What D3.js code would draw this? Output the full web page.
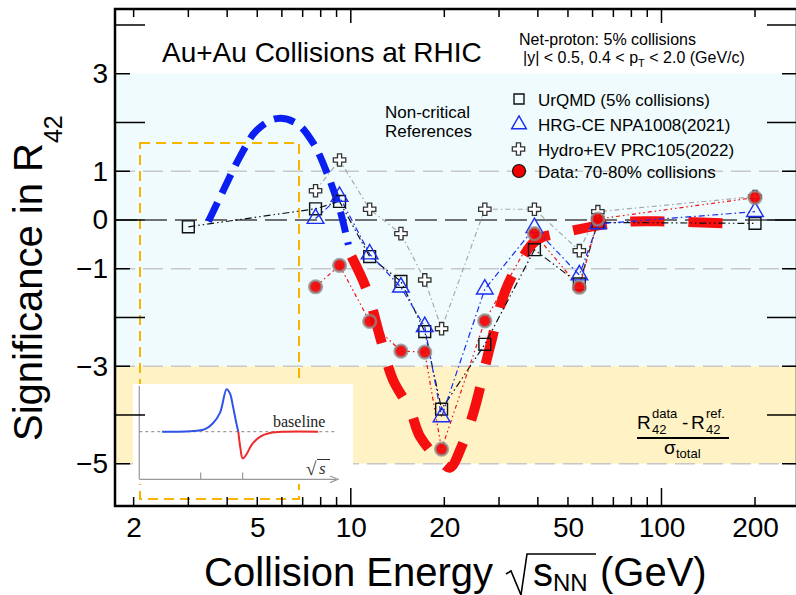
<!DOCTYPE html>
<html>
<head>
<meta charset="utf-8">
<script src="https://cdn.jsdelivr.net/npm/d3@7"></script>
<style>
  html, body { margin: 0; padding: 0; background: #fff; overflow: hidden; }
  svg { display: block; font-family: "Liberation Sans", Arial, Helvetica, sans-serif; }
</style>
</head>
<body>
<svg id="chart" width="796" height="595"></svg>
<script>
// collision energies (GeV)
const urqmdEnergies = [3, 7.7, 9.2, 11.5, 14.5, 17.3, 19.6, 27, 39, 54.4, 62.4, 200];
const besEnergies = [7.7, 9.2, 11.5, 14.5, 17.3, 19.6, 27, 39, 54.4, 62.4, 200];

// significance values
const urqmdValues = [-0.14, 0.23, 0.38, -0.75, -1.26, -2.29, -3.88, -2.55, -0.61, -1.31, -0.05, -0.07];
const hrgValues   = [0.03, 0.48, -0.70, -1.38, -2.19, -4.04, -1.42, -0.16, -1.13, -0.08, 0.17];
const hydroValues = [0.60, 1.23, 0.22, -0.28, -1.23, -2.23, 0.22, 0.22, -0.63, 0.17, 0.48];
const dataValues  = [-1.37, -0.93, -2.08, -2.69, -2.71, -4.70, -2.07, -0.28, -1.38, 0.02, 0.46];

// thick guide curves
const guideBlueE = [3.48, 3.89, 4.40, 4.98, 5.77, 6.70, 7.58, 8.47, 9.23, 9.82];
const guideBlueV = [-0.03, 0.61, 1.30, 1.84, 2.08, 1.98, 1.57, 0.89, 0.20, -0.51];
const guideRedE = [10.05, 11.25, 12.41, 13.67, 15.51, 16.70, 19.6, 20.86, 22.75, 24.80, 28.05, 31.36, 35.05, 39.67, 50.0, 64.2, 80.2, 103.9, 166];
const guideRedV = [-0.75, -1.43, -2.39, -3.28, -3.89, -4.44, -4.97, -5.08, -4.64, -3.96, -2.60, -1.47, -0.86, -0.41, -0.24, -0.10, -0.03, -0.03, -0.07];

// inset sketch (arbitrary units)
const insetBlueT = [11.5, 25.6, 33.2, 37.2, 40.8, 44.1, 45.8, 47.3, 48.8, 50];
const insetBlueV = [0, 0.01, 0.06, 0.2, 0.45, 1.0, 0.9, 0.6, 0.25, 0];
const insetRedT = [50, 51.1, 52.2, 53.9, 56.9, 60.9, 66, 73.6, 90.3];
const insetRedV = [0, -0.4, -0.63, -0.55, -0.3, -0.12, -0.03, 0, 0];

// axis ticks
const xMinorTicks = [2, 3, 4, 5, 6, 7, 8, 9, 20, 30, 40, 50, 60, 70, 80, 90, 200];
const xMajorTicks = [10, 100];
const xTickLabels = [2, 5, 10, 20, 50, 100, 200];
const yLongTicks = [4, 2, 0, -2, -4];
const yShortTicks = [3, 1, -1, -3, -5];
const yTickLabels = [3, 1, 0, -1, -3, -5];
const grayLines = [1, -1, -3, -5];

const legendLabels = ["UrQMD (5% collisions)", "HRG-CE NPA1008(2021)", "Hydro+EV PRC105(2022)", "Data: 70-80% collisions"];

const X0 = 115, X1 = 797, Y0 = 9, Y1 = 506;
const svg = d3.select("#chart");

const x = d3.scaleLog().domain([1.742, 273]).range([X0, X1]);
const y = d3.scaleLinear().domain([-5.867, 4.328]).range([Y1, Y0]);

// background bands
svg.append("rect").attr("x", X0).attr("y", y(3)).attr("width", X1 - X0).attr("height", y(-3) - y(3)).attr("fill", "#effbfd");
svg.append("rect").attr("x", X0).attr("y", y(-3)).attr("width", X1 - X0).attr("height", y(-5) - y(-3)).attr("fill", "#fff2c4");

// grid lines
svg.selectAll(".grid").data(grayLines).enter().append("line")
  .attr("x1", X0).attr("x2", X1).attr("y1", d => y(d)).attr("y2", d => y(d))
  .attr("stroke", "#c8c8c8").attr("stroke-width", 1.6).attr("stroke-dasharray", "20,8");
svg.append("line").attr("x1", X0).attr("x2", X1).attr("y1", y(0)).attr("y2", y(0))
  .attr("stroke", "#444").attr("stroke-width", 1.5).attr("stroke-dasharray", "22,8");

// orange dashed box
svg.append("rect").attr("x", 140).attr("y", 143).attr("width", 159).attr("height", 356)
  .attr("fill", "none").attr("stroke", "#f7b500").attr("stroke-width", 2).attr("stroke-dasharray", "10,6");

// inset sketch
const inset = svg.append("g");
inset.append("rect").attr("x", 133).attr("y", 384).attr("width", 220).attr("height", 100).attr("fill", "#fff");
const ix = d3.scaleLinear().domain([0, 100]).range([139.3, 337.3]);
const iy = d3.scaleLinear().domain([0, 1]).range([431.7, 389.3]);
inset.append("line").attr("x1", ix(0)).attr("x2", ix(0)).attr("y1", 386).attr("y2", 479.3).attr("stroke", "#999").attr("stroke-width", 1.2);
inset.append("line").attr("x1", ix(0)).attr("x2", 336).attr("y1", 479.3).attr("y2", 479.3).attr("stroke", "#999").attr("stroke-width", 1.2);
inset.append("path").attr("d", "M330,476 L338,479.3 L330,482.6").attr("fill", "none").attr("stroke", "#999").attr("stroke-width", 1.2);
inset.selectAll(".itick").data([31, 52.2]).enter().append("line")
  .attr("x1", d => ix(d)).attr("x2", d => ix(d)).attr("y1", 472.5).attr("y2", 479.3).attr("stroke", "#999").attr("stroke-width", 1.2);
inset.append("line").attr("x1", ix(0)).attr("x2", ix(100)).attr("y1", iy(0)).attr("y2", iy(0))
  .attr("stroke", "#777").attr("stroke-width", 0.9).attr("stroke-dasharray", "3,3");
const iline = d3.line().x(d => ix(d[0])).y(d => iy(d[1])).curve(d3.curveCatmullRom);
inset.append("path").attr("d", iline(d3.zip(insetBlueT, insetBlueV))).attr("fill", "none").attr("stroke", "#2f54e6").attr("stroke-width", 2);
inset.append("path").attr("d", iline(d3.zip(insetRedT, insetRedV))).attr("fill", "none").attr("stroke", "#ee2b2b").attr("stroke-width", 2);
inset.append("text").attr("x", 273).attr("y", 427).attr("font-family", "'Liberation Serif', 'DejaVu Serif', serif")
  .attr("font-size", 16).attr("fill", "#222").text("baseline");
inset.append("text").attr("x", 306).attr("y", 475).attr("font-family", "'Liberation Serif', 'DejaVu Serif', serif")
  .attr("font-size", 19).attr("fill", "#333").text("\u221A");
inset.append("line").attr("x1", 317).attr("x2", 330).attr("y1", 459.5).attr("y2", 459.5).attr("stroke", "#333").attr("stroke-width", 1);
inset.append("text").attr("x", 319).attr("y", 474).attr("font-family", "'Liberation Serif', 'DejaVu Serif', serif")
  .attr("font-style", "italic").attr("font-size", 17).attr("fill", "#333").text("s");

// guide curves
const gline = d3.line().x(d => x(d[0])).y(d => y(d[1])).curve(d3.curveCatmullRom);
svg.append("path").attr("d", gline(d3.zip(guideBlueE, guideBlueV))).attr("fill", "none")
  .attr("stroke", "#0a1ff0").attr("stroke-width", 7).attr("stroke-dasharray", "21,10");
svg.append("path").attr("d", gline(d3.zip(guideRedE, guideRedV))).attr("fill", "none")
  .attr("stroke", "#f50f0f").attr("stroke-width", 10).attr("stroke-dasharray", "34,24");

// connecting lines
const sline = d3.line().x(d => x(d[0])).y(d => y(d[1]));
const series = [
  { e: besEnergies, v: hydroValues, color: "#a8a8a8", dash: "5,3,1.5,3" },
  { e: urqmdEnergies, v: urqmdValues, color: "#111", dash: "7,3,1.5,3,1.5,3" },
  { e: besEnergies, v: hrgValues, color: "#1a2cf0", dash: "6,3,1.5,3" },
  { e: besEnergies, v: dataValues, color: "#f01010", dash: "4,3,1.5,3,1.5,3" }
];
series.forEach(s => {
  svg.append("path").attr("d", sline(d3.zip(s.e, s.v))).attr("fill", "none")
    .attr("stroke", s.color).attr("stroke-width", 1.2).attr("stroke-dasharray", s.dash);
});

// markers
const sym = (type, size) => d3.symbol().type(type).size(size)();
svg.selectAll(".sq").data(d3.zip(urqmdEnergies, urqmdValues)).enter().append("path")
  .attr("transform", d => `translate(${x(d[0])},${y(d[1])})`).attr("d", sym(d3.symbolSquare, 140))
  .attr("fill", "none").attr("stroke", "#111").attr("stroke-width", 1.4);
svg.selectAll(".tri").data(d3.zip(besEnergies, hrgValues)).enter().append("path")
  .attr("transform", d => `translate(${x(d[0])},${y(d[1])})`).attr("d", sym(d3.symbolTriangle, 120))
  .attr("fill", "none").attr("stroke", "#1a2cf0").attr("stroke-width", 1.4);
svg.selectAll(".cr").data(d3.zip(besEnergies, hydroValues)).enter().append("path")
  .attr("transform", d => `translate(${x(d[0])},${y(d[1])})`).attr("d", sym(d3.symbolCross, 85))
  .attr("fill", "#fff").attr("stroke", "#333").attr("stroke-width", 1.3);
svg.selectAll(".ci").data(d3.zip(besEnergies, dataValues)).enter().append("circle")
  .attr("cx", d => x(d[0])).attr("cy", d => y(d[1])).attr("r", 6.3)
  .attr("fill", "#f20000").attr("fill-opacity", 0.92).attr("stroke", "rgba(140,140,140,0.75)").attr("stroke-width", 2.6);

// frame
svg.append("rect").attr("x", X0).attr("y", Y0).attr("width", X1 - X0).attr("height", Y1 - Y0)
  .attr("fill", "none").attr("stroke", "#000").attr("stroke-width", 2.5);

// ticks
const tick = (vals, len, orient) => {
  svg.selectAll(null).data(vals).enter().append("line")
    .each(function (d) {
      const el = d3.select(this);
      if (orient === "bottom") el.attr("x1", x(d)).attr("x2", x(d)).attr("y1", Y1).attr("y2", Y1 - len);
      if (orient === "top") el.attr("x1", x(d)).attr("x2", x(d)).attr("y1", Y0).attr("y2", Y0 + len);
      if (orient === "left") el.attr("y1", y(d)).attr("y2", y(d)).attr("x1", X0).attr("x2", X0 + len);
      if (orient === "right") el.attr("y1", y(d)).attr("y2", y(d)).attr("x1", X1).attr("x2", X1 - len);
    })
    .attr("stroke", "#000").attr("stroke-width", 1.5);
};
tick(xMinorTicks, 9, "bottom"); tick(xMajorTicks, 18, "bottom");
tick(xMinorTicks, 8, "top"); tick(xMajorTicks, 14, "top");
tick(yLongTicks, 30, "left"); tick(yShortTicks, 15, "left");
tick(yLongTicks, 30, "right"); tick(yShortTicks, 15, "right");

// tick labels via axes
const xAxis = svg.append("g").attr("transform", `translate(0,${Y1})`)
  .call(d3.axisBottom(x).tickValues(xTickLabels).tickFormat(d3.format("d")).tickSize(0).tickPadding(11));
const yAxis = svg.append("g").attr("transform", `translate(${X0},0)`)
  .call(d3.axisLeft(y).tickValues(yTickLabels).tickFormat(d3.format("d")).tickSize(0).tickPadding(7));
[xAxis, yAxis].forEach(g => {
  g.select(".domain").remove();
  g.attr("font-family", null).attr("font-size", null);
  g.selectAll("text").attr("font-size", 28).attr("fill", "#000");
});

// axis titles
const ytitle = svg.append("text").attr("transform", "translate(42,441) rotate(-90)").attr("font-size", 40).attr("fill", "#000");
ytitle.append("tspan").text("Significance in R");
ytitle.append("tspan").attr("font-size", 25).attr("dy", 20).text("42");

svg.append("text").attr("x", 204).attr("y", 586).attr("font-size", 40).text("Collision Energy");
svg.append("path").attr("d", "M506,574 L511,571 L521,595 L527,554 L596,554").attr("fill", "none").attr("stroke", "#000").attr("stroke-width", 1.6);
const sx = svg.append("text").attr("x", 533).attr("y", 586).attr("font-size", 40);
sx.append("tspan").text("s");
sx.append("tspan").attr("font-size", 24).attr("dy", 5).text("NN");
svg.append("text").attr("x", 600).attr("y", 586).attr("font-size", 40).text("(GeV)");

// header texts
svg.append("text").attr("x", 162).attr("y", 62).attr("font-size", 28).text("Au+Au Collisions at RHIC");
svg.append("text").attr("x", 519).attr("y", 45).attr("font-size", 16).text("Net-proton: 5% collisions");
const cut = svg.append("text").attr("x", 523).attr("y", 63).attr("font-size", 16);
cut.append("tspan").text("|y| < 0.5, 0.4 < p");
cut.append("tspan").attr("font-size", 11).attr("dy", 4).text("T");
cut.append("tspan").attr("dy", -4).text(" < 2.0 (GeV/c)");

// legend
svg.append("text").attr("x", 385).attr("y", 118).attr("font-size", 17).text("Non-critical");
svg.append("text").attr("x", 385).attr("y", 137).attr("font-size", 17).text("References");
const legY = [99, 123.5, 149, 171];
const legG = svg.append("g");
legG.append("path").attr("transform", `translate(519,${legY[0]})`).attr("d", sym(d3.symbolSquare, 100))
  .attr("fill", "none").attr("stroke", "#111").attr("stroke-width", 1.4);
legG.append("path").attr("transform", `translate(519,${legY[1] + 1})`).attr("d", sym(d3.symbolTriangle, 95))
  .attr("fill", "none").attr("stroke", "#1a2cf0").attr("stroke-width", 1.4);
legG.append("path").attr("transform", `translate(518.5,${legY[2]})`).attr("d", sym(d3.symbolCross, 85))
  .attr("fill", "#fff").attr("stroke", "#333").attr("stroke-width", 1.3);
legG.append("circle").attr("cx", 519).attr("cy", legY[3]).attr("r", 6.5)
  .attr("fill", "#f20000").attr("stroke", "#111").attr("stroke-width", 1.2);
legG.selectAll("text").data(legendLabels).enter().append("text")
  .attr("x", 538).attr("y", (d, i) => legY[i] + 7).attr("font-size", 17).text(d => d);

// formula
const f = svg.append("g").attr("fill", "#000");
f.append("text").attr("x", 637).attr("y", 429).attr("font-size", 19).text("R");
f.append("text").attr("x", 652).attr("y", 418).attr("font-size", 13).text("data");
f.append("text").attr("x", 652).attr("y", 434).attr("font-size", 13).text("42");
f.append("text").attr("x", 682).attr("y", 429).attr("font-size", 19).text("-");
f.append("text").attr("x", 691).attr("y", 429).attr("font-size", 19).text("R");
f.append("text").attr("x", 706).attr("y", 418).attr("font-size", 13).text("ref.");
f.append("text").attr("x", 706).attr("y", 434).attr("font-size", 13).text("42");
f.append("line").attr("x1", 637).attr("x2", 729).attr("y1", 438).attr("y2", 438).attr("stroke", "#000").attr("stroke-width", 2);
f.append("text").attr("x", 664).attr("y", 454).attr("font-size", 19).text("\u03C3");
f.append("text").attr("x", 676).attr("y", 458).attr("font-size", 13).text("total");
</script>
</body>
</html>
